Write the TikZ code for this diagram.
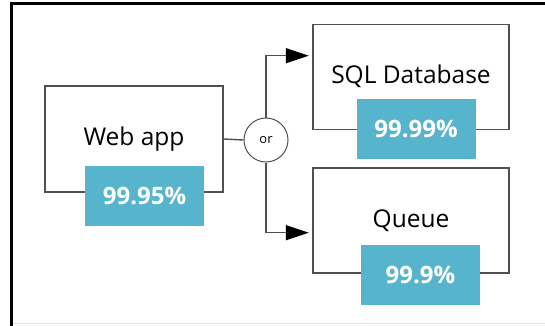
\documentclass[tikz,border=0pt]{standalone}
\usepackage{fontspec}
\setmainfont{Open Sans}
\usetikzlibrary{arrows.meta}
\definecolor{badgeblue}{HTML}{57B4CD}
\definecolor{boxline}{HTML}{505050}
\begin{document}
\begin{tikzpicture}[x=1pt,y=-1pt,
  svcbox/.style={draw=boxline, line width=1.4pt, minimum width=178pt, minimum height=106pt, inner sep=0pt, font=\fontsize{24.5}{28}\selectfont, text=black},
  sqlbox/.style={svcbox, minimum width=196pt, minimum height=105pt},
  badge/.style={fill=badgeblue, minimum width=119pt, minimum height=60pt, inner sep=0pt, text=white, font=\fontsize{24}{28}\selectfont\bfseries},
  orcircle/.style={circle, draw=boxline, line width=1pt, minimum size=44pt, inner sep=0pt, font=\fontsize{13}{15}\selectfont},
  conn/.style={draw=boxline, line width=1.4pt},
  arr/.style={conn, -{Triangle[length=23pt,width=15pt,color=black]}, shorten >=4.5pt}]
\useasboundingbox (0,0) rectangle (545,325);
% frame
\draw[line width=2.5pt] (545,3.7) -- (11.5,3.7) -- (11.5,326);
\draw[black!12, line width=1.5pt] (13,323.5) -- (545,323.5);
% boxes
\node[svcbox] (web) at (134,139) {Web app};
\node[sqlbox] (sql) at (411,76.7) {SQL Database};
\node[sqlbox] (queue) at (411,220.5) {Queue};
% badges
\node[badge] (webb) at (144.5,195.7) {99.95\%};
\node[badge] (sqlb) at (416,129.2) {99.99\%};
\node[badge] (queueb) at (420.5,275.3) {99.9\%};
% or
\node[orcircle] (or) at (266,140) {or};
\coordinate (sqlin) at (313.3,55.7);
\coordinate (queuein) at (313.3,232.7);
\draw[conn] (web.east) -- (or.west);
\draw[arr] (or.north) |- (sqlin);
\draw[arr] (or.south) |- (queuein);
\end{tikzpicture}
\end{document}
